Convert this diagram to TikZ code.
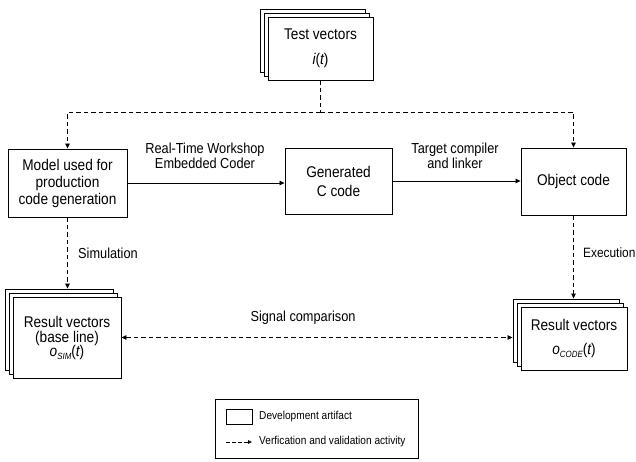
\documentclass[tikz,border=0pt]{standalone}
\usepackage{fontspec}
\setmainfont[FakeStretch=0.88]{Liberation Sans}
\usetikzlibrary{shadows,arrows.meta}
\tikzset{
  box/.style={draw,fill=white,line width=0.9pt,minimum width=#1,inner sep=0pt,align=center,font=\fontsize{15.5}{17}\selectfont},
  stack/.style={double copy shadow={shadow xshift=-4pt,shadow yshift=4pt,draw,fill=white}},
  lbl/.style={font=\fontsize{14.5}{15.5}\selectfont,align=center,inner sep=0pt},
  leglbl/.style={font=\fontsize{11.5}{12}\selectfont,inner sep=0pt,anchor=west},
  arr/.style={line width=0.8pt,-{Triangle[length=5pt,width=4.5pt]}},
  dline/.style={line width=0.8pt,dash pattern=on 4.5pt off 3pt},
  darr/.style={dline,-{Triangle[length=5pt,width=4.5pt]}},
  ddarr/.style={dline,{Triangle[length=5pt,width=4.5pt]}-{Triangle[length=5pt,width=4.5pt]}},
}
\newcommand{\subsc}[1]{\raisebox{-3pt}{\itshape\fontsize{9}{9}\selectfont #1}}
\begin{document}
\begin{tikzpicture}[x=1pt,y=-1pt]
\useasboundingbox (0,0) rectangle (636,462);
% nodes
\node[box=105pt,minimum height=63pt,stack] (tv) at (320.5,48.5) {Test vectors\\[8pt]{\itshape i}({\itshape t})};
\node[box=119pt,minimum height=68pt] (model) at (67.5,183) {Model used for\\production\\code generation};
\node[box=107pt,minimum height=66pt] (gen) at (338.5,181) {Generated\\[2pt]C code};
\node[box=108pt,minimum height=81pt,stack,font=\fontsize{15.5}{15}\selectfont] (res1) at (67,337.5) {Result vectors\\(base line)\\[-1pt]{\itshape o}\subsc{SIM}({\itshape t})};
\node[box=105pt,minimum height=67pt] (obj) at (573.5,181.5) {Object code};
\node[box=106pt,minimum height=63pt,stack] (res2) at (574,338.5) {Result vectors\\[7pt]{\itshape o}\subsc{CODE}({\itshape t})};
% labels
\node[lbl] (l1) at (205,156) {Real-Time Workshop\\Embedded Coder};
\node[lbl] (l2) at (455,156) {Target compiler\\and linker};
\node[lbl,anchor=west] (l3) at (78,253) {Simulation};
\node[lbl,anchor=west,font=\fontsize{13.5}{15}\selectfont] (l4) at (583,253) {Execution};
\node[lbl] (l5) at (303,318) {Signal comparison};
% connectors
\draw[dline] (tv.south) -- ++(0,32) coordinate (split);
\draw[darr] (split) -| (model.north);
\draw[darr] (split) -| (obj.north);
\draw[arr] (model.east) -- (model.east -| gen.west);
\draw[arr] (gen.east) -- (gen.east -| obj.west);
\draw[darr] (model.south) -- ([yshift=8pt]model.south |- res1.north);
\draw[darr] (obj.south) -- ([yshift=8pt]obj.south |- res2.north);
\draw[ddarr] (res1.east) -- ([xshift=-8pt]res2.west |- res1.east);
% legend
\node[draw,line width=0.8pt,minimum width=203pt,minimum height=59pt,inner sep=0pt] (legend) at (316.5,428.5) {};
\node[draw,line width=0.8pt,minimum width=26pt,minimum height=15pt,inner sep=0pt] (legbox) at (239,416.5) {};
\node[leglbl] (legt1) at (259,416.5) {Development artifact};
\coordinate (la) at (226,442);
\coordinate (lb) at (252,442);
\draw[dline,dash pattern=on 3.5pt off 2.5pt,-{Triangle[length=4pt,width=3.5pt]}] (la) -- (lb);
\node[leglbl] (legt2) at (259,442) {Verfication and validation activity};
\end{tikzpicture}
\end{document}
